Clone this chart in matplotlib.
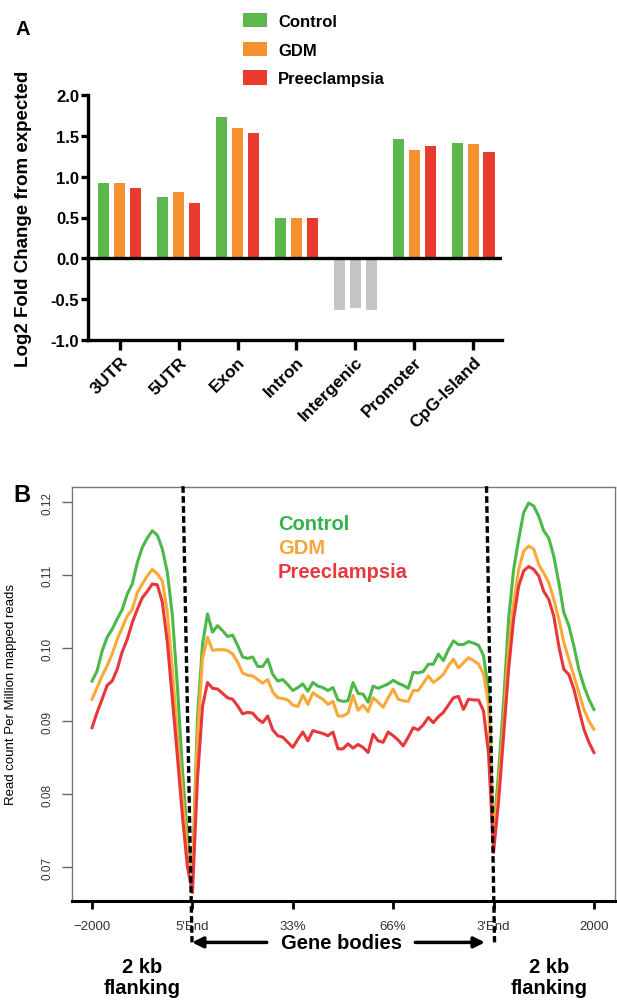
import numpy as np
import matplotlib.pyplot as plt
from matplotlib.transforms import blended_transform_factory, ScaledTranslation

plt.rcParams['font.family'] = ['Liberation Sans', 'DejaVu Sans']
plt.rcParams['axes.unicode_minus'] = False

# ---- panel A: fold change per genomic region ----
regions = ["3UTR", "5UTR", "Exon", "Intron", "Intergenic", "Promoter", "CpG-Island"]
groups = ["Control", "GDM", "Preeclampsia"]
fc_control = [0.92, 0.75, 1.73, 0.49, -0.63, 1.46, 1.41]
fc_gdm = [0.92, 0.81, 1.60, 0.49, -0.61, 1.33, 1.40]
fc_pre = [0.86, 0.68, 1.53, 0.50, -0.63, 1.375, 1.30]

# ---- panel B: read density profile (20 points per tick interval) ----
tick_labels_b = ["\u22122000", "5'End", "33%", "66%", "3'End", "2000"]
ctrl_profile = [
    0.0955, 0.0969, 0.0996, 0.1015, 0.1026, 0.1040, 0.1053, 0.1074, 0.1088, 0.1117,
    0.1138, 0.1151, 0.1161, 0.1155, 0.1136, 0.1104, 0.1045, 0.0948, 0.0834, 0.0740,
    0.0690,
    0.0905, 0.1005, 0.1047, 0.1022, 0.1031, 0.1024, 0.1016, 0.1018, 0.1004, 0.0988,
    0.0986, 0.0988, 0.0975, 0.0975, 0.0985, 0.0964, 0.0955, 0.0957, 0.0950, 0.0942,
    0.0946, 0.0951, 0.0941, 0.0953, 0.0948, 0.0946, 0.0942, 0.0946, 0.0929, 0.0927,
    0.0928, 0.0953, 0.0938, 0.0937, 0.0926, 0.0948, 0.0945, 0.0948, 0.0951, 0.0956,
    0.0952, 0.0949, 0.0945, 0.0967, 0.0966, 0.0968, 0.0978, 0.0978, 0.0992, 0.0983,
    0.0998, 0.1010, 0.1005, 0.1005, 0.1009, 0.1007, 0.1004, 0.0990, 0.0942,
    0.0745,
    0.0830, 0.0926, 0.1040, 0.1108, 0.1149, 0.1186, 0.1199, 0.1195, 0.1181, 0.1161,
    0.1151, 0.1126, 0.1090, 0.1049, 0.1031, 0.1003, 0.0971, 0.0948, 0.0930, 0.0916,
]
gdm_profile = [
    0.0930, 0.0946, 0.0962, 0.0976, 0.0992, 0.1012, 0.1028, 0.1044, 0.1053, 0.1076,
    0.1088, 0.1099, 0.1108, 0.1102, 0.1092, 0.1049, 0.0971, 0.0880, 0.0800, 0.0720,
    0.0690,
    0.0880, 0.0985, 0.1015, 0.0997, 0.0998, 0.0998, 0.0997, 0.0992, 0.0981, 0.0966,
    0.0963, 0.0962, 0.0957, 0.0952, 0.0957, 0.0940, 0.0932, 0.0931, 0.0929, 0.0922,
    0.0920, 0.0936, 0.0923, 0.0939, 0.0934, 0.0930, 0.0923, 0.0927, 0.0907, 0.0907,
    0.0911, 0.0935, 0.0915, 0.0922, 0.0913, 0.0932, 0.0926, 0.0919, 0.0932, 0.0944,
    0.0930, 0.0928, 0.0927, 0.0942, 0.0942, 0.0952, 0.0962, 0.0953, 0.0958, 0.0964,
    0.0976, 0.0985, 0.0973, 0.0980, 0.0987, 0.0983, 0.0978, 0.0965, 0.0923,
    0.0740,
    0.0810, 0.0898, 0.0999, 0.1062, 0.1108, 0.1133, 0.1140, 0.1136, 0.1115, 0.1103,
    0.1090, 0.1067, 0.1040, 0.1008, 0.0985, 0.0962, 0.0939, 0.0916, 0.0900, 0.0889,
]
pre_profile = [
    0.0891, 0.0912, 0.0930, 0.0949, 0.0955, 0.0971, 0.0995, 0.1012, 0.1035, 0.1053,
    0.1069, 0.1078, 0.1088, 0.1087, 0.1063, 0.1008, 0.0930, 0.0852, 0.0770, 0.0700,
    0.0665,
    0.0820, 0.0920, 0.0953, 0.0945, 0.0944, 0.0938, 0.0932, 0.0930, 0.0921, 0.0910,
    0.0912, 0.0911, 0.0903, 0.0898, 0.0907, 0.0888, 0.0880, 0.0878, 0.0871, 0.0864,
    0.0875, 0.0885, 0.0873, 0.0887, 0.0885, 0.0883, 0.0880, 0.0885, 0.0862, 0.0862,
    0.0869, 0.0863, 0.0868, 0.0864, 0.0857, 0.0882, 0.0873, 0.0871, 0.0885, 0.0880,
    0.0874, 0.0866, 0.0878, 0.0891, 0.0888, 0.0895, 0.0905, 0.0898, 0.0906, 0.0912,
    0.0922, 0.0932, 0.0934, 0.0916, 0.0930, 0.0929, 0.0929, 0.0914, 0.0855,
    0.0720,
    0.0790, 0.0880, 0.0971, 0.1040, 0.1085, 0.1106, 0.1112, 0.1108, 0.1099, 0.1078,
    0.1067, 0.1044, 0.1003, 0.0971, 0.0964, 0.0944, 0.0916, 0.0889, 0.0871, 0.0857,
]

bar_colors = ["#5cb84c", "#f5912f", "#e83b2e"]
neg_color = "#c4c5c7"
line_colors = ["#4cb848", "#f9a937", "#e8373a"]

fig = plt.figure(figsize=(6.17, 10.03), dpi=100)

# ================= panel A =================
ax = fig.add_axes([88 / 617, 1 - 341 / 1003, 414 / 617, 245 / 1003])
xs = np.arange(len(regions))
handles = []
for i, vals in enumerate([fc_control, fc_gdm, fc_pre]):
    cols = [bar_colors[i] if v >= 0 else neg_color for v in vals]
    b = ax.bar(xs + (i - 1) * 0.27, vals, width=0.19, color=cols, zorder=2)
    handles.append(b)

ax.axhline(0, color="black", lw=2.4, zorder=3)
ax.set_xlim(-0.54, 6.49)
ax.set_ylim(-1, 2)
for s in ["top", "right"]:
    ax.spines[s].set_visible(False)
for s in ["left", "bottom"]:
    ax.spines[s].set_linewidth(2.4)
yt = np.arange(-1, 2.01, 0.5)
ax.set_yticks(yt)
ax.set_yticklabels([f"{t:.1f}" for t in yt], fontweight="bold", fontsize=12)
ax.set_xticks(xs)
ax.set_xticklabels(regions, rotation=45, ha="right", va="top",
                   rotation_mode="anchor", fontweight="bold", fontsize=12.5)
shift = ScaledTranslation(0.06, 0, fig.dpi_scale_trans)
for lbl in ax.get_xticklabels():
    lbl.set_transform(lbl.get_transform() + shift)
ax.tick_params(axis="y", width=2.4, length=5, pad=1.5)
ax.tick_params(axis="x", width=2.4, length=7, pad=3)
ax.set_ylabel("Log2 Fold Change from expected", fontweight="bold", fontsize=13.5)
ax.yaxis.set_label_coords(-0.135, 0.5)

fig.legend(handles, groups, loc="upper left",
           bbox_to_anchor=(243 / 617, 1 - 14 / 1003), frameon=False,
           prop={"weight": "bold", "size": 12}, handlelength=1.44,
           handleheight=0.96, handletextpad=0.66, labelspacing=0.76,
           borderpad=0, borderaxespad=0)

fig.text(15 / 617, 1 - 35 / 1003, "A", fontsize=14.5, fontweight="bold")

# ================= panel B =================
ax2 = fig.add_axes([72 / 617, 1 - 902 / 1003, 543 / 617, 414 / 1003])
for prof, col in zip([ctrl_profile, gdm_profile, pre_profile], line_colors):
    ax2.plot(np.arange(len(prof)) / 20, prof, color=col, lw=2.2)

ax2.set_xlim(-0.2, 5.21)
ax2.set_ylim(0.06534, 0.1221)
ax2.set_xticks(range(len(tick_labels_b)))
ax2.set_xticklabels(tick_labels_b, fontsize=9.5, color="#333333")
yt2 = [0.07, 0.08, 0.09, 0.10, 0.11, 0.12]
ax2.set_yticks(yt2)
ax2.set_yticklabels([f"{t:.2f}" for t in yt2], rotation=90, va="center",
                    fontsize=8.5, color="#333333")
for s in ["top", "left", "right"]:
    ax2.spines[s].set_color("#777777")
    ax2.spines[s].set_linewidth(1.0)
ax2.spines["bottom"].set_linewidth(2.2)
ax2.tick_params(axis="x", length=6, width=2, pad=8)
ax2.tick_params(axis="y", length=7, width=1, color="#666666", pad=6)
ax2.set_ylabel("Read count Per Million mapped reads", fontsize=9.5)
ax2.yaxis.set_label_coords(-0.101, 0.5)

blend = blended_transform_factory(ax2.transData, ax2.transAxes)
# dashed borders of the gene body
ax2.plot([0.906, 0.996], [1.002, -0.1], transform=blend, color="black",
         lw=2.4, ls=(0, (2, 1)), clip_on=False, zorder=5)
ax2.plot([3.93, 4.01], [1.002, -0.1], transform=blend, color="black",
         lw=2.4, ls=(0, (2, 1)), clip_on=False, zorder=5)

ax2.annotate("", xy=(0.996, -0.1), xytext=(1.74, -0.1), xycoords=blend,
             textcoords=blend, annotation_clip=False,
             arrowprops=dict(arrowstyle="-|>", color="black", lw=2.5,
                             mutation_scale=16, shrinkA=0, shrinkB=0))
ax2.annotate("", xy=(3.914, -0.1), xytext=(3.22, -0.1), xycoords=blend,
             textcoords=blend, annotation_clip=False,
             arrowprops=dict(arrowstyle="-|>", color="black", lw=2.5,
                             mutation_scale=16, shrinkA=0, shrinkB=0))
ax2.text(2.49, -0.101, "Gene bodies", transform=blend, ha="center",
         va="center", fontsize=14.5, fontweight="bold")
for xx in [0.5, 4.55]:
    ax2.text(xx, -0.184, "2 kb\nflanking", transform=blend, ha="center",
             va="center", fontsize=14.5, fontweight="bold", linespacing=1.1)

for lbl, col, yy in zip(groups, ["#33b24a", "#f7a53a", "#e8383d"],
                        [0.913, 0.855, 0.795]):
    ax2.text(0.379, yy, lbl, transform=ax2.transAxes, color=col,
             fontsize=14.5, fontweight="bold", va="center")

fig.text(13 / 617, 1 - 502 / 1003, "B", fontsize=17, fontweight="bold")

fig.savefig("out.png", dpi=100)
